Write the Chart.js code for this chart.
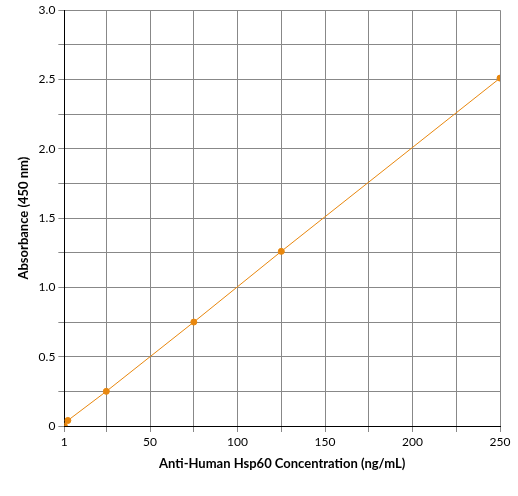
<!doctype html>
<html>
<head>
<script src="https://cdn.jsdelivr.net/npm/chart.js@4"></script>
<style>body{margin:0;background:#fff}#wrap{width:518px;height:496px}</style>
</head>
<body>
<div id="wrap"><canvas id="c"></canvas></div>
<script>
var concentrations = [1, 3, 25, 75, 125, 250];
var absorbance = [0.0, 0.04, 0.25, 0.75, 1.26, 2.51];
var xTicks = [1, 25, 50, 75, 100, 125, 150, 175, 200, 225, 250];
var xLabels = [1, 50, 100, 150, 200, 250];

var points = concentrations.map(function (x, i) { return { x: x, y: absorbance[i] }; });
Chart.defaults.font.family = "Lato, 'Noto Sans', sans-serif";
Chart.defaults.color = '#000';

new Chart(document.getElementById('c'), {
  type: 'scatter',
  data: { datasets: [{
    data: points, showLine: true, borderColor: '#e8870e', backgroundColor: '#e8870e',
    borderWidth: 1, pointRadius: 3, pointHoverRadius: 3
  }]},
  options: {
    responsive: true, maintainAspectRatio: false, animation: false,
    layout: { padding: { top: 10, right: 18, left: 12, bottom: 20 } },
    plugins: { legend: { display: false }, tooltip: { enabled: false } },
    scales: {
      x: {
        type: 'linear', min: 1, max: 250,
        afterBuildTicks: function (s) { s.ticks = xTicks.map(function (v) { return { value: v }; }); },
        ticks: { autoSkip: false, maxRotation: 0, font: { size: 12 },
          callback: function (v) { return xLabels.indexOf(v) >= 0 ? v : ''; } },
        grid: { color: '#888', tickLength: 6 },
        border: { color: '#000' },
        title: { display: true, text: 'Anti-Human Hsp60 Concentration (ng/mL)', font: { size: 13, weight: 'bold' } }
      },
      y: {
        min: 0, max: 3,
        ticks: { stepSize: 0.25, autoSkip: false, font: { size: 12 },
          callback: function (v) {
            if (v === 0) return '0';
            return Math.abs(v * 2 - Math.round(v * 2)) < 1e-6 ? v.toFixed(1) : '';
          } },
        grid: { color: '#888', tickLength: 6 },
        border: { color: '#000' },
        title: { display: true, text: 'Absorbance (450 nm)', font: { size: 13, weight: 'bold' } }
      }
    }
  }
});
</script>
</body>
</html>
